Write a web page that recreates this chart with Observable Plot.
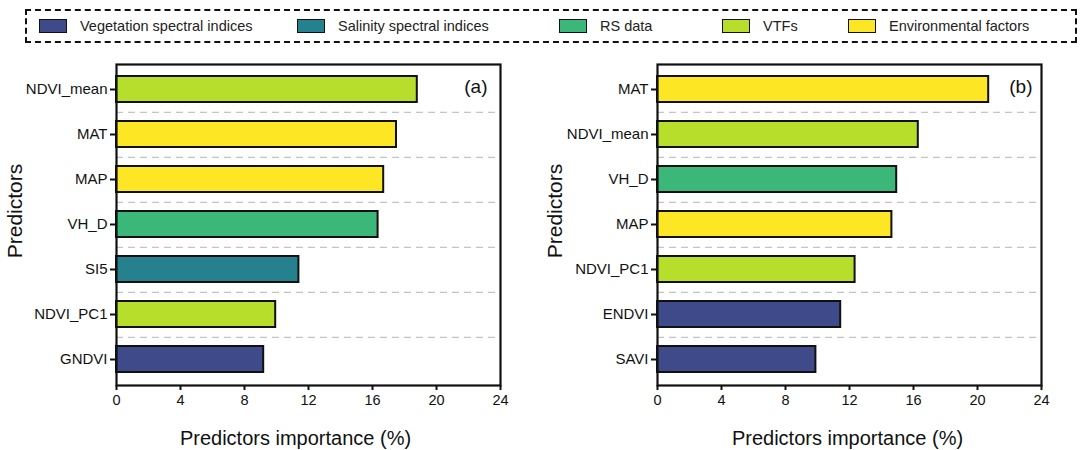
<!DOCTYPE html>
<html>
<head>
<meta charset="utf-8">
<script src="https://cdn.jsdelivr.net/npm/d3@7"></script>
<script src="https://cdn.jsdelivr.net/npm/@observablehq/plot@0.6"></script>
<style>
  html, body { margin: 0; padding: 0; background: #fff; }
  body { width: 1080px; height: 450px; position: relative; font-family: "Liberation Sans", Arial, sans-serif; }
  #legend { position: absolute; left: 25px; top: 9px; width: 1048px; height: 30px; border: 2px dashed #111; }
  .item { position: absolute; top: 0; height: 30px; display: flex; align-items: center; font-size: 14.5px; color: #222; }
  .sw { width: 26px; height: 12px; border: 1.5px solid #111; margin-right: 13px; }
  #charts { position: absolute; left: 0; top: 55px; display: flex; }
  #charts svg { display: block; }
</style>
</head>
<body>
<div id="legend"></div>
<div id="charts"></div>
<script>
// ---- data ----
const groups = ["Vegetation spectral indices", "Salinity spectral indices", "RS data", "VTFs", "Environmental factors"];
const groupColors = ["#3E4A89", "#26818E", "#3BB77A", "#B7DE2B", "#FDE725"];

const predictorsA = ["NDVI_mean", "MAT", "MAP", "VH_D", "SI5", "NDVI_PC1", "GNDVI"];
const importanceA = [18.8, 17.5, 16.7, 16.35, 11.4, 9.95, 9.2];
const groupA = ["VTFs", "Environmental factors", "Environmental factors", "RS data", "Salinity spectral indices", "VTFs", "Vegetation spectral indices"];

const predictorsB = ["MAT", "NDVI_mean", "VH_D", "MAP", "NDVI_PC1", "ENDVI", "SAVI"];
const importanceB = [20.7, 16.3, 14.95, 14.65, 12.35, 11.45, 9.9];
const groupB = ["Environmental factors", "VTFs", "RS data", "Environmental factors", "VTFs", "Vegetation spectral indices", "Vegetation spectral indices"];

const xTicks = [0, 4, 8, 12, 16, 20, 24];
const xTitle = "Predictors importance (%)";
const yTitle = "Predictors";

// ---- legend (HTML, above the SVGs) ----
const legendLeft = [12, 270, 532, 695, 821];
const legend = document.getElementById("legend");
groups.forEach((g, i) => {
  const it = document.createElement("div");
  it.className = "item";
  it.style.left = legendLeft[i] + "px";
  const sw = document.createElement("div");
  sw.className = "sw";
  sw.style.background = groupColors[i];
  const t = document.createElement("span");
  t.textContent = g;
  it.appendChild(sw); it.appendChild(t);
  legend.appendChild(it);
});

// ---- panels ----
function panel(names, values, grps, letter, mLeft, mRight, letterDx, titleDx) {
  const data = names.map((n, i) => ({name: n, value: values[i], group: grps[i]}));
  const width = 540, height = 395, mTop = 9, mBottom = 65;
  const step = (height - mTop - mBottom) / names.length;
  return Plot.plot({
    width, height,
    marginLeft: mLeft, marginRight: mRight, marginTop: mTop, marginBottom: mBottom,
    style: {fontFamily: "'Liberation Sans', Arial, sans-serif", fontSize: "14px", color: "#111", background: "white"},
    x: {domain: [0, 24]},
    y: {domain: names, paddingInner: 0.42, paddingOuter: 0.21},
    color: {domain: groups, range: groupColors},
    marks: [
      Plot.ruleY(names.slice(0, -1), {stroke: "#c4c4c4", strokeWidth: 1.2, strokeDasharray: "7,5", dy: step / 2}),
      Plot.barX(data, {x: "value", y: "name", fill: "group", stroke: "#111", strokeWidth: 2}),
      Plot.frame({stroke: "#111", strokeWidth: 2.2}),
      Plot.axisX({ticks: xTicks, tickSize: 5, tickPadding: 4, strokeWidth: 2, label: null, fontSize: 14.5}),
      Plot.axisY({tickSize: 6, tickPadding: 3, strokeWidth: 2, label: null, fontSize: 15}),
      Plot.text([xTitle], {frameAnchor: "bottom", lineAnchor: "middle", dx: titleDx, dy: 53, fontSize: 20, fill: "#111"}),
      Plot.text([yTitle], {frameAnchor: "left", textAnchor: "middle", lineAnchor: "middle", rotate: -90, dx: 15 - mLeft, dy: -14, fontSize: 21, fill: "#111"}),
      Plot.text([letter], {frameAnchor: "top-right", lineAnchor: "middle", textAnchor: "end", dx: letterDx, dy: 22, fontSize: 19, fill: "#111"})
    ]
  });
}

const charts = document.getElementById("charts");
charts.appendChild(panel(predictorsA, importanceA, groupA, "(a)", 116, 40, -13, -13));
charts.appendChild(panel(predictorsB, importanceB, groupB, "(b)", 117, 39, -9, -2));
</script>
</body>
</html>
